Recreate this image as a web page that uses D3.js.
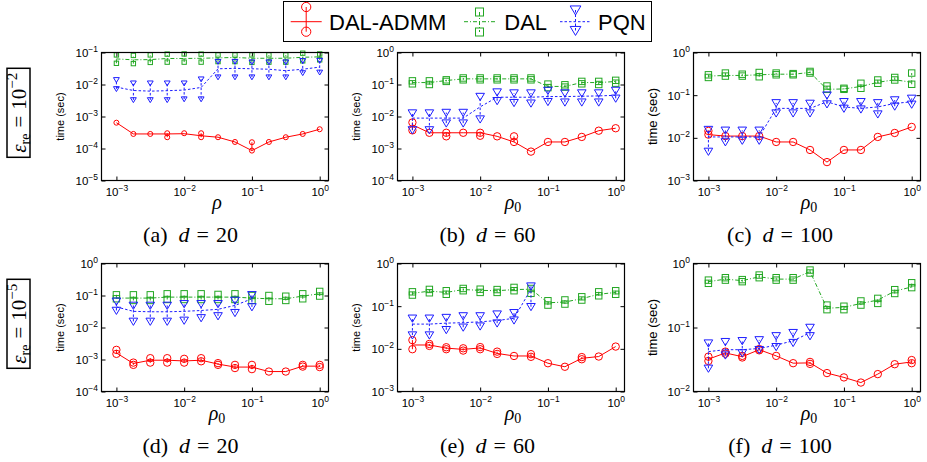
<!DOCTYPE html>
<html>
<head>
<meta charset="utf-8">
<script src="https://cdn.jsdelivr.net/npm/d3@7/dist/d3.min.js"></script>
<style>
body { margin: 0; background: #fff; }
svg { display: block; }
</style>
</head>
<body>
<script>
// rho values (x axis), same for every panel
var rho = [0.001, 0.00178, 0.00316, 0.00562, 0.01, 0.0178, 0.0316, 0.0562, 0.1, 0.178, 0.316, 0.562, 1];

// each point: [min, median, max] time in sec
var aAdmm = [[6.4e-4,6.4e-4,6.4e-4],[2.85e-4,2.85e-4,2.85e-4],[2.85e-4,2.85e-4,2.85e-4],[2.25e-4,2.85e-4,3.0e-4],[3.0e-4,2.9e-4,3.0e-4],[2.25e-4,2.5e-4,3.0e-4],[2.25e-4,2.25e-4,2.25e-4],[1.6e-4,1.6e-4,1.6e-4],[8.6e-5,8.6e-5,1.57e-4],[1.6e-4,1.6e-4,1.6e-4],[2.25e-4,2.25e-4,2.25e-4],[2.85e-4,2.85e-4,2.85e-4],[4.0e-4,4.0e-4,4.0e-4]];
var aDal = [[0.046,0.063,0.084],[0.045,0.059,0.081],[0.049,0.060,0.084],[0.050,0.065,0.089],[0.050,0.065,0.090],[0.050,0.066,0.089],[0.052,0.068,0.084],[0.052,0.070,0.084],[0.049,0.066,0.084],[0.050,0.066,0.084],[0.050,0.066,0.084],[0.055,0.071,0.095],[0.059,0.073,0.090]];
var aPqn = [[0.0073,0.0083,0.014],[0.0033,0.0065,0.011],[0.0033,0.0062,0.011],[0.0033,0.0064,0.011],[0.0035,0.0067,0.011],[0.0035,0.0081,0.0147],[0.017,0.031,0.052],[0.017,0.032,0.052],[0.017,0.031,0.050],[0.017,0.030,0.050],[0.017,0.027,0.050],[0.023,0.030,0.055],[0.024,0.035,0.056]];

var bAdmm = [[0.0037,0.0055,0.0065],[0.0031,0.0031,0.0031],[0.0024,0.0031,0.0031],[0.0031,0.0031,0.0031],[0.0025,0.0031,0.0031],[0.0024,0.0024,0.0024],[0.0016,0.0016,0.0024],[0.0008,0.0008,0.0008],[0.0016,0.0016,0.0016],[0.0016,0.0016,0.0016],[0.0023,0.0023,0.0023],[0.0036,0.0036,0.0036],[0.0043,0.0043,0.0043]];
var bDal = [[0.105,0.115,0.13],[0.10,0.115,0.13],[0.125,0.133,0.14],[0.14,0.15,0.16],[0.14,0.15,0.16],[0.14,0.15,0.16],[0.14,0.15,0.16],[0.14,0.15,0.16],[0.08,0.087,0.103],[0.083,0.087,0.098],[0.105,0.115,0.125],[0.10,0.115,0.125],[0.11,0.124,0.135]];
var bPqn = [[0.0038,0.0089,0.0128],[0.0038,0.0089,0.0128],[0.0062,0.0089,0.0133],[0.0062,0.0089,0.0133],[0.0083,0.020,0.042],[0.031,0.040,0.058],[0.027,0.040,0.054],[0.026,0.040,0.054],[0.029,0.042,0.065],[0.028,0.042,0.054],[0.028,0.043,0.054],[0.028,0.044,0.054],[0.037,0.046,0.065]];

var cAdmm = [[0.0119,0.0119,0.0145],[0.011,0.011,0.011],[0.011,0.011,0.011],[0.011,0.011,0.011],[0.008,0.008,0.008],[0.008,0.008,0.008],[0.0052,0.0052,0.0052],[0.0027,0.0027,0.0027],[0.0052,0.0052,0.0052],[0.0052,0.0052,0.0052],[0.0105,0.0105,0.0105],[0.013,0.013,0.013],[0.018,0.018,0.018]];
var cDal = [[0.26,0.28,0.30],[0.28,0.29,0.33],[0.28,0.29,0.31],[0.27,0.30,0.34],[0.30,0.31,0.33],[0.30,0.31,0.32],[0.33,0.34,0.36],[0.137,0.137,0.164],[0.137,0.14,0.145],[0.145,0.16,0.19],[0.19,0.20,0.227],[0.227,0.23,0.26],[0.18,0.20,0.33]];
var cPqn = [[0.0048,0.0105,0.0156],[0.008,0.0105,0.015],[0.0087,0.0105,0.015],[0.0087,0.0105,0.015],[0.038,0.049,0.066],[0.038,0.049,0.066],[0.038,0.049,0.064],[0.062,0.070,0.10],[0.049,0.053,0.070],[0.047,0.049,0.070],[0.036,0.053,0.066],[0.055,0.064,0.077],[0.061,0.070,0.084]];

var dAdmm = [[0.0015,0.0016,0.0020],[0.00068,0.00075,0.0008],[0.0008,0.00095,0.0011],[0.0008,0.00095,0.0011],[0.0008,0.0009,0.00105],[0.00088,0.00095,0.0011],[0.00068,0.00072,0.00077],[0.00054,0.00058,0.00068],[0.0005,0.00058,0.00068],[0.00042,0.00042,0.00042],[0.00042,0.00042,0.00042],[0.0006,0.00062,0.00068],[0.00058,0.00062,0.00068]];
var dDal = [[0.079,0.083,0.105],[0.070,0.083,0.105],[0.070,0.083,0.105],[0.075,0.089,0.113],[0.075,0.089,0.113],[0.075,0.089,0.113],[0.075,0.089,0.108],[0.075,0.089,0.113],[0.070,0.083,0.10],[0.066,0.079,0.10],[0.070,0.079,0.095],[0.079,0.096,0.113],[0.096,0.113,0.134]];
var dPqn = [[0.034,0.044,0.066],[0.0155,0.032,0.049],[0.0155,0.031,0.049],[0.0155,0.031,0.049],[0.0167,0.032,0.055],[0.020,0.034,0.055],[0.023,0.037,0.055],[0.029,0.049,0.070],[0.044,0.079,0.105]];

var eAdmm = [[0.0098,0.0123,0.016],[0.0117,0.0123,0.013],[0.0098,0.0104,0.0109],[0.0091,0.0097,0.0103],[0.0098,0.0105,0.011],[0.0076,0.0078,0.0086],[0.0068,0.0068,0.0068],[0.0065,0.0068,0.0075],[0.0046,0.0046,0.0046],[0.0038,0.0038,0.0038],[0.0057,0.006,0.0064],[0.0066,0.0066,0.0066],[0.0113,0.0113,0.0113]];
var eDal = [[0.182,0.20,0.217],[0.206,0.225,0.247],[0.19,0.21,0.23],[0.23,0.245,0.26],[0.21,0.235,0.25],[0.21,0.23,0.245],[0.23,0.245,0.275],[0.20,0.25,0.26],[0.106,0.12,0.134],[0.112,0.125,0.14],[0.139,0.15,0.166],[0.175,0.19,0.217],[0.19,0.21,0.23]];
var ePqn = [[0.021,0.038,0.052],[0.021,0.038,0.052],[0.028,0.040,0.054],[0.032,0.041,0.059],[0.034,0.043,0.059],[0.040,0.046,0.065],[0.047,0.052,0.070],[0.097,0.25,0.295]];

var fAdmm = [[0.030,0.032,0.035],[0.039,0.040,0.042],[0.034,0.035,0.036],[0.044,0.045,0.046],[0.036,0.036,0.036],[0.0277,0.0277,0.0277],[0.027,0.028,0.029],[0.0194,0.0194,0.0194],[0.0166,0.0166,0.0166],[0.0138,0.0138,0.0138],[0.0187,0.0187,0.0187],[0.0267,0.0267,0.0267],[0.0277,0.029,0.031]];
var fDal = [[0.49,0.52,0.55],[0.55,0.57,0.60],[0.52,0.54,0.56],[0.60,0.62,0.66],[0.55,0.57,0.60],[0.55,0.57,0.60],[0.71,0.75,0.79],[0.19,0.20,0.224],[0.19,0.206,0.215],[0.224,0.238,0.26],[0.238,0.268,0.285],[0.34,0.37,0.39],[0.42,0.43,0.50]];
var fPqn = [[0.023,0.042,0.057],[0.037,0.045,0.060],[0.040,0.045,0.062],[0.045,0.047,0.064],[0.050,0.053,0.074],[0.058,0.062,0.083],[0.074,0.083,0.10]];

var methods = ["DAL-ADMM", "DAL", "PQN"];
var xTicks = [1e-3, 1e-2, 1e-1, 1];
var captions = ["(a)", "(b)", "(c)", "(d)", "(e)", "(f)"];
var dims = ["20", "60", "100", "20", "60", "100"];
var epsLabels = ["\u22122", "\u22125"];

var w = 927, h = 462;
var pw = 227, ph = 128;

var colors = ["#ff0000", "#22a722", "#1c1cff"];
var dashes = [null, "4,2,1,2", "2.5,2"];
var sans = "'Liberation Sans', Arial, sans-serif";
var serif = "'Liberation Serif', 'Times New Roman', serif";

var svg = d3.select("body").append("svg")
    .attr("width", w)
    .attr("height", h);

var panels = [
    {left: 101.5, top: 52.5, yTicks: [1e-5, 1e-4, 1e-3, 1e-2, 1e-1], series: [aAdmm, aDal, aPqn], sub: false, ms: 0.68, cx: 190.5, yl: 11},
    {left: 397.5, top: 52.5, yTicks: [1e-4, 1e-3, 1e-2, 1e-1, 1], series: [bAdmm, bDal, bPqn], sub: true, ms: 1, cx: 487.5, yl: 11},
    {left: 693.5, top: 52.5, yTicks: [1e-3, 1e-2, 1e-1, 1], series: [cAdmm, cDal, cPqn], sub: true, ms: 1, cx: 780, yl: 13},
    {left: 101.5, top: 263.5, yTicks: [1e-4, 1e-3, 1e-2, 1e-1, 1], series: [dAdmm, dDal, dPqn], sub: true, ms: 1, cx: 190.5, yl: 11},
    {left: 397.5, top: 263.5, yTicks: [1e-3, 1e-2, 1e-1, 1], series: [eAdmm, eDal, ePqn], sub: true, ms: 1, cx: 487.5, yl: 11},
    {left: 693.5, top: 263.5, yTicks: [1e-2, 1e-1, 1], series: [fAdmm, fDal, fPqn], sub: true, ms: 1, cx: 780, yl: 13}
];

function powLabel(sel, fs) {
    sel.each(function(d){
        var e = Math.round(Math.log10(d));
        var t = d3.select(this).text(null);
        t.append("tspan").text("10");
        t.append("tspan").attr("dy", -5).attr("font-size", fs * 0.74)
            .text(e < 0 ? "\u2212" + (-e) : "" + e);
    });
}

function marker(g, type, cx, cy, s, color) {
    if (type === 0) {
        g.append("circle").attr("cx", cx).attr("cy", cy).attr("r", 3.7 * s)
            .attr("fill", "none").attr("stroke", color).attr("stroke-width", 1);
    } else if (type === 1) {
        var a = 6.4 * s;
        g.append("rect").attr("x", cx - a / 2).attr("y", cy - a / 2).attr("width", a).attr("height", a)
            .attr("fill", "none").attr("stroke", color).attr("stroke-width", 1);
    } else {
        var hw = 4.3 * s, th = 7.2 * s;
        g.append("path")
            .attr("d", "M" + (cx - hw) + "," + (cy - th * 0.45) + "L" + (cx + hw) + "," + (cy - th * 0.45) + "L" + cx + "," + (cy + th * 0.55) + "Z")
            .attr("fill", "none").attr("stroke", color).attr("stroke-width", 1);
    }
}

function drawPanel(p, idx) {
    var g = svg.append("g").attr("transform", "translate(" + p.left + "," + p.top + ")");
    var x = d3.scaleLog().domain([Math.pow(10, -3.22), Math.pow(10, 0.13)]).range([0, pw]);
    var y = d3.scaleLog().domain([p.yTicks[0], p.yTicks[p.yTicks.length - 1]]).range([ph, 0]);

    // ticks on all four sides, pointing inward
    var axB = g.append("g").attr("transform", "translate(0," + ph + ")")
        .call(d3.axisBottom(x).tickValues(xTicks).tickSizeInner(-4).tickSizeOuter(0));
    g.append("g").call(d3.axisTop(x).tickValues(xTicks).tickSizeInner(-4).tickSizeOuter(0).tickFormat(""));
    var axL = g.append("g")
        .call(d3.axisLeft(y).tickValues(p.yTicks).tickSizeInner(-4).tickSizeOuter(0));
    g.append("g").attr("transform", "translate(" + pw + ",0)")
        .call(d3.axisRight(y).tickValues(p.yTicks).tickSizeInner(-4).tickSizeOuter(0).tickFormat(""));
    g.selectAll(".domain").remove();
    g.selectAll(".tick line").attr("stroke", "#000");

    axB.selectAll("text").attr("y", 15.5).attr("dy", null)
        .attr("font-family", sans).attr("font-size", 11.5).attr("fill", "#000")
        .call(powLabel, 11.5);
    axL.selectAll("text").attr("x", -3.5).attr("dy", 4)
        .attr("font-family", sans).attr("font-size", 11.5).attr("fill", "#000")
        .call(powLabel, 11.5);

    // data
    var line = d3.line()
        .x(function(d, i){ return x(rho[i]); })
        .y(function(d){ return y(d[1]); });

    p.series.forEach(function(s, k){
        var sg = g.append("g");
        sg.append("path").datum(s)
            .attr("d", line)
            .attr("fill", "none")
            .attr("stroke", colors[k])
            .attr("stroke-width", 1)
            .attr("stroke-dasharray", dashes[k]);
        s.forEach(function(d, i){
            var px = x(rho[i]);
            if (d[0] !== d[2]) {
                sg.append("line").attr("x1", px).attr("x2", px)
                    .attr("y1", y(d[0])).attr("y2", y(d[2]))
                    .attr("stroke", colors[k]).attr("stroke-width", 1)
                    .attr("stroke-dasharray", dashes[k]);
            }
            marker(sg, k, px, y(d[0]), p.ms, colors[k]);
            if (d[0] !== d[2]) marker(sg, k, px, y(d[2]), p.ms, colors[k]);
        });
    });

    // frame
    g.append("rect").attr("width", pw).attr("height", ph)
        .attr("fill", "none").attr("stroke", "#000").attr("stroke-width", 1.2);

    // y label
    g.append("text")
        .attr("transform", "translate(" + (p.yl > 12 ? -37 : -38) + "," + (ph / 2) + ") rotate(-90)")
        .attr("text-anchor", "middle")
        .attr("font-family", sans).attr("font-size", p.yl)
        .text("time (sec)");

    // x label
    var xl = g.append("text")
        .attr("x", pw / 2 + 2).attr("y", ph + 28.5)
        .attr("text-anchor", "middle")
        .attr("font-family", serif).attr("font-size", 20);
    xl.append("tspan").attr("font-style", "italic").text("\u03c1");
    if (p.sub) xl.append("tspan").attr("font-size", 14).attr("dy", 3).text("0");

    // caption
    var cap = svg.append("text")
        .attr("x", p.cx).attr("y", p.top + ph + 61)
        .attr("text-anchor", "middle")
        .attr("font-family", serif).attr("font-size", 22);
    cap.append("tspan").text(captions[idx]);
    cap.append("tspan").attr("dx", 11).attr("font-style", "italic").text("d");
    cap.append("tspan").attr("dx", 7).text("=");
    cap.append("tspan").attr("dx", 7).text(dims[idx]);
}

panels.forEach(drawPanel);

// row labels
[112.8, 323.8].forEach(function(cy, r){
    svg.append("rect").attr("x", 7).attr("y", cy - 44.5).attr("width", 23).attr("height", 89)
        .attr("fill", "none").attr("stroke", "#000").attr("stroke-width", 1.5);
    var t = svg.append("text")
        .attr("transform", "translate(26," + cy + ") rotate(-90)")
        .attr("text-anchor", "middle")
        .attr("font-family", serif).attr("font-size", 21);
    t.append("tspan").attr("font-style", "italic").text("\u03b5");
    t.append("tspan").attr("font-size", 14).attr("dy", 4).text("re");
    t.append("tspan").attr("dy", -4).attr("dx", 6).text("=");
    t.append("tspan").attr("dx", 6).text("10");
    t.append("tspan").attr("font-size", 15).attr("dy", -9).text(epsLabels[r]);
});

// legend
var lg = svg.append("g");
lg.append("rect").attr("x", 283.5).attr("y", 1.5).attr("width", 368).attr("height", 40)
    .attr("fill", "#fff").attr("stroke", "#000").attr("stroke-width", 1);
var legX = [290.7, 464, 560];
var legText = [329, 504.3, 598];
methods.forEach(function(m, k){
    var x0 = legX[k], xc = x0 + 15.5;
    var ys = k === 0 ? [7, 31.7] : (k === 1 ? [12, 32] : [10, 30.5]);
    lg.append("line").attr("x1", x0).attr("x2", x0 + 31).attr("y1", 21.7).attr("y2", 21.7)
        .attr("stroke", colors[k]).attr("stroke-width", 1).attr("stroke-dasharray", dashes[k]);
    lg.append("line").attr("x1", xc).attr("x2", xc).attr("y1", ys[0]).attr("y2", ys[1])
        .attr("stroke", colors[k]).attr("stroke-width", 1).attr("stroke-dasharray", dashes[k]);
    marker(lg, k, xc, ys[0], 1.25, colors[k]);
    marker(lg, k, xc, ys[1], 1.25, colors[k]);
    lg.append("text").attr("x", legText[k]).attr("y", 30)
        .attr("font-family", sans).attr("font-size", 22)
        .text(m);
});
</script>
</body>
</html>
